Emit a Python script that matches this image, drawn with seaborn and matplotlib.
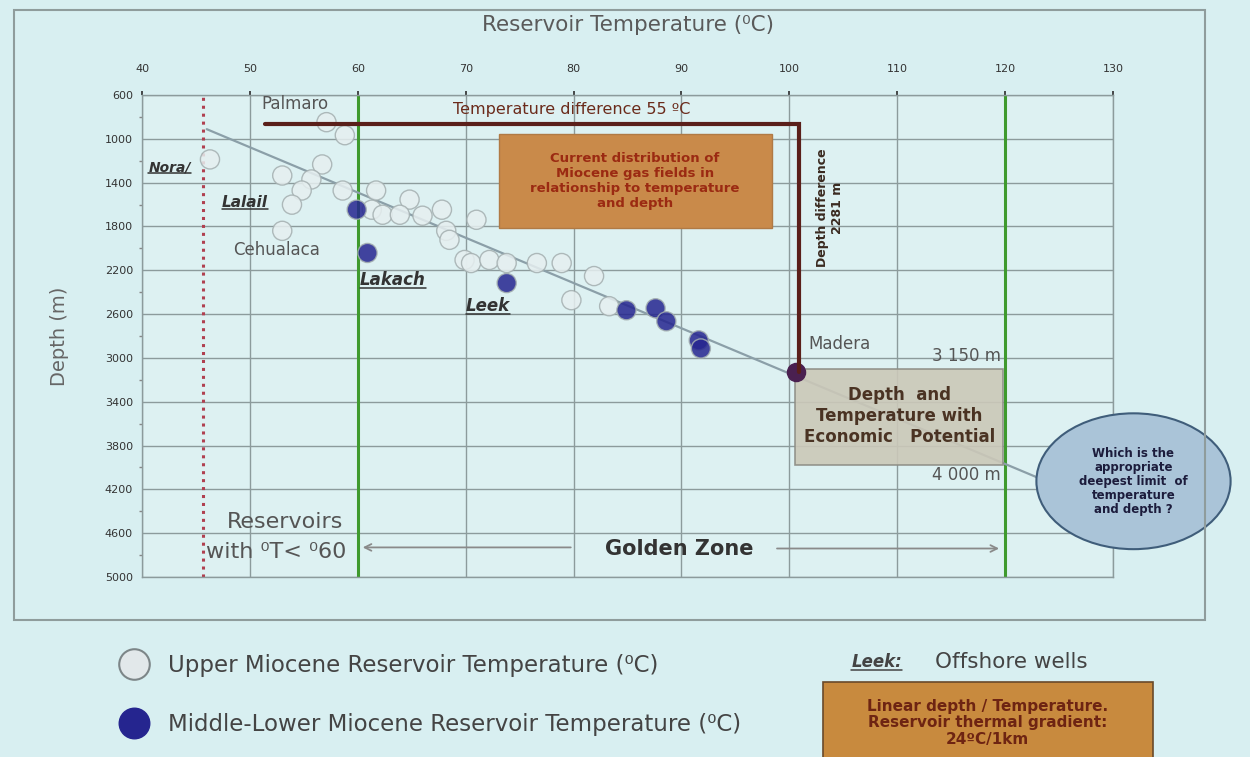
import numpy as np
import pandas as pd
import matplotlib.pyplot as plt
import seaborn as sns
from matplotlib.patches import Rectangle, Ellipse
from matplotlib.lines import Line2D

# reservoir data
upper_temp = [57.1, 58.8, 46.3, 53.0, 56.7, 55.7, 54.8, 53.9, 53.0, 58.6, 61.7, 61.3, 62.3,
              64.8, 63.9, 66.0, 67.8, 68.2, 68.5, 71.0, 69.9, 70.5, 72.2, 73.8, 76.6, 78.9,
              81.9, 79.8, 83.3]
upper_depth = [848, 967, 1188, 1335, 1234, 1371, 1472, 1601, 1840, 1472, 1472, 1647, 1693,
               1555, 1693, 1702, 1647, 1840, 1922, 1739, 2106, 2134, 2106, 2134, 2134, 2134,
               2253, 2473, 2528]
lower_temp = [59.9, 60.9, 73.8, 84.9, 87.6, 88.6, 91.6, 91.8]
lower_depth = [1647, 2042, 2317, 2565, 2547, 2666, 2840, 2914]
madera_temp = [100.6]
madera_depth = [3125]

trend_temp = [46.0, 124.5]
trend_depth = [912, 4154]
diff_temp = [51.4, 100.9, 100.9]
diff_depth = [866, 866, 3125]

x_ticks = list(range(40, 131, 10))
y_ticks = list(range(600, 5001, 400))

upper_label = "Upper Miocene Reservoir Temperature (\u2070C)"
lower_label = "Middle-Lower Miocene Reservoir Temperature (\u2070C)"

df = pd.DataFrame({
    "temp": upper_temp + lower_temp,
    "depth": upper_depth + lower_depth,
    "group": [upper_label] * len(upper_temp) + [lower_label] * len(lower_temp),
})

bg = "#d8eff1"
sns.set_theme(style="white")
plt.rcParams['font.family'] = ['DejaVu Sans']

fig = plt.figure(figsize=(12.5, 7.57), dpi=100, facecolor=bg)
ax = fig.add_axes([0.1136, 0.2378, 0.7768, 0.6367], facecolor="#ddf1f2")

grid_c = "#8c9b9c"
for t in x_ticks:
    ax.axvline(t, color=grid_c, lw=1, zorder=0)
for d in y_ticks:
    ax.axhline(d, color=grid_c, lw=1, zorder=0)

ax.axvline(45.7, color="#b04050", lw=2.2, ls=(0, (1, 1.6)), zorder=1)
ax.axvline(60, color="#3f9a2e", lw=2.2, zorder=1)
ax.axvline(120, color="#3f9a2e", lw=2.2, zorder=1)

ax.plot(trend_temp, trend_depth, color="#8b9fa8", lw=1.6, zorder=2)

ax.add_patch(Rectangle((73.1, 958), 25.3, 854, facecolor="#c98a4a", edgecolor="#b07a45",
                       lw=1, zorder=3))
ax.text(85.7, 1385, "Current distribution of\nMiocene gas fields in\nrelationship to temperature\nand depth",
        ha="center", va="center", fontsize=9.5, fontweight="bold", color="#9b2a12", zorder=4,
        linespacing=1.2)

ax.add_patch(Rectangle((100.5, 3100), 19.3, 880, facecolor="#cbc8b8", edgecolor="#8d8d85",
                       lw=1.2, alpha=0.9, zorder=3))
ax.text(110.2, 3530, "Depth  and\nTemperature with\nEconomic   Potential", ha="center",
        va="center", fontsize=12, fontweight="bold", color="#4a3323", zorder=4, linespacing=1.2)

sns.scatterplot(data=df, x="temp", y="depth", hue="group", ax=ax, s=190,
                palette={upper_label: "#e6eff0", lower_label: "#25258f"},
                edgecolor="#a4afb0", linewidth=1.0, alpha=0.85, legend=False, zorder=5)
ax.scatter(madera_temp, madera_depth, s=170, color="#4a2050", zorder=6)

ax.plot(diff_temp, diff_depth, color="#5a1f1a", lw=3, zorder=6, solid_joinstyle="miter")

ax.add_patch(Ellipse((131.9, 4126), 18, 1240, facecolor="#aac4d8", edgecolor="#3f5d7a",
                     lw=1.5, clip_on=False, zorder=7))
ax.text(131.9, 4126, "Which is the\nappropriate\ndeepest limit  of\ntemperature\nand depth ?",
        ha="center", va="center", fontsize=8.5, fontweight="bold", color="#1c1c3c", zorder=8,
        clip_on=False, linespacing=1.1)

txt_c = "#555555"
ax.text(79.8, 735, "Temperature difference 55 \u00baC", ha="center", va="center", fontsize=11.5,
        color="#6b2b1b", zorder=8)
ax.text(103.8, 1630, "Depth difference\n2281 m", rotation=90, ha="center", va="center",
        fontsize=9, fontweight="bold", color="#3a2a20", zorder=8)
ax.text(101.8, 2877, "Madera", ha="left", va="center", fontsize=12, color=txt_c, zorder=8)
ax.text(119.6, 2980, "3 150 m", ha="right", va="center", fontsize=12, color=txt_c, zorder=8)
ax.text(119.6, 4071, "4 000 m", ha="right", va="center", fontsize=12, color=txt_c, zorder=8)
ax.text(51.1, 680, "Palmaro", ha="left", va="center", fontsize=12, color=txt_c, zorder=8)
ax.text(53.3, 4500, "Reservoirs", ha="center", va="center", fontsize=16, color=txt_c, zorder=8)
ax.text(45.9, 4770, "with \u2070T< \u207060", ha="left", va="center", fontsize=16, color=txt_c, zorder=8)
ax.text(48.4, 2014, "Cehualaca", ha="left", va="center", fontsize=12, color=txt_c, zorder=8)
ax.text(89.8, 4740, "Golden Zone", ha="center", va="center", fontsize=15, fontweight="bold",
        color="#333333", zorder=8)

arrow_kw = dict(arrowstyle="->", color="#8a8a8a", lw=1.3)
ax.annotate("", xy=(60.2, 4730), xytext=(80.0, 4730), arrowprops=arrow_kw, zorder=8)
ax.annotate("", xy=(119.7, 4740), xytext=(98.6, 4740), arrowprops=arrow_kw, zorder=8)

ax.set_xlim(40, 130)
ax.set_ylim(5000, 600)
ax.set_xticks(x_ticks)
ax.set_yticks(y_ticks)
ax.set_yticks(list(range(600, 5001, 200)), minor=True)
ax.xaxis.tick_top()
ax.xaxis.set_label_position("top")
ax.tick_params(axis="both", labelsize=8, colors="#333333", length=3, direction="out")
ax.tick_params(axis="y", which="minor", length=2, color="#888888", left=True)
ax.tick_params(axis="x", pad=12)
ax.set_xlabel("Reservoir Temperature (\u2070C)", fontsize=15.5, color="#5a5a5a", labelpad=24)
ax.set_ylabel("Depth (m)", fontsize=14, color="#666666", labelpad=26)
for sp in ax.spines.values():
    sp.set_color(grid_c)
    sp.set_linewidth(1)

# chart border
fig.add_artist(Rectangle((0.011, 0.181), 0.953, 0.806, transform=fig.transFigure,
                         facecolor="none", edgecolor="#8f9c9c", lw=1.5))

# underlined, italic labels
fig.canvas.draw()


def underlined(x, y, s, size, trans, color="#333333"):
    t = fig.text(x, y, s, fontsize=size, fontweight="bold", fontstyle="italic", color=color,
                 transform=trans, ha="left", va="center", zorder=9)
    fig.canvas.draw()
    bb = t.get_window_extent().transformed(fig.transFigure.inverted())
    fig.add_artist(Line2D([bb.x0, bb.x1], [bb.y0 + 0.002] * 2, transform=fig.transFigure,
                          color=color, lw=1.1))
    return t


underlined(40.6, 1260, "Nora/", 10, ax.transData)
underlined(47.4, 1583, "Lalail", 11, ax.transData)
underlined(60.2, 2290, "Lakach", 12, ax.transData)
underlined(70.0, 2528, "Leek", 12, ax.transData)

# legend below the chart
handles = [Line2D([], [], marker="o", ls="", markersize=22, markerfacecolor="#e2e8ea",
                  markeredgecolor="#7d8688", markeredgewidth=1.5),
           Line2D([], [], marker="o", ls="", markersize=22, markerfacecolor="#25258f",
                  markeredgecolor="#25258f")]
fig.legend(handles, [upper_label, lower_label], loc="upper left", bbox_to_anchor=(0.072, 0.163),
           frameon=False, fontsize=16.5, labelspacing=1.55, handletextpad=0.5,
           labelcolor="#444444")

underlined(0.681, 0.125, "Leek:", 12, fig.transFigure, color="#444444")
fig.text(0.748, 0.125, "Offshore wells", fontsize=15.5, color="#444444", ha="left", va="center")
fig.add_artist(Rectangle((0.658, -0.01), 0.264, 0.109, transform=fig.transFigure,
                         facecolor="#c88a3e", edgecolor="#6a4a2a", lw=1.2))
fig.text(0.79, 0.045, "Linear depth / Temperature.\nReservoir thermal gradient:\n24\u00baC/1km",
         fontsize=11, fontweight="bold", color="#6e2412", ha="center", va="center",
         linespacing=1.15)

fig.savefig("out.png", dpi=100, facecolor=bg)
